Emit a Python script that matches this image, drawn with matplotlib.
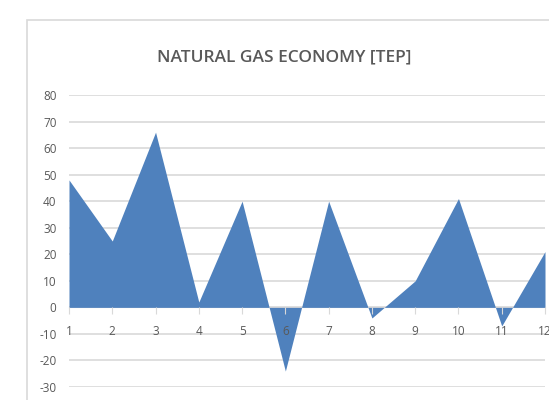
import numpy as np
import matplotlib.pyplot as plt
from matplotlib.patches import Rectangle

# chart data
months = [1, 2, 3, 4, 5, 6, 7, 8, 9, 10, 11, 12]
economy = [48, 25, 66, 2, 40, -24, 40, -4, 10, 41, -7, 21]
y_ticks = [-30, -20, -10, 0, 10, 20, 30, 40, 50, 60, 70, 80]

plt.rcParams['font.family'] = ['Open Sans', 'DejaVu Sans']
plt.rcParams['axes.unicode_minus'] = False

fig = plt.figure(figsize=(5.49, 4.0), dpi=100)

# outer chart frame (cut off at right and bottom like the screenshot)
fig.patches.append(Rectangle((27 / 549, -0.1), 1.0, 1 - 20 / 400 + 0.1,
                             transform=fig.transFigure, fill=False,
                             edgecolor="#d9d9d9", linewidth=1.2))

ax = fig.add_axes([69 / 549, 1 - 387 / 400, (545 - 69) / 549, (387 - 95) / 400])

# gridlines drawn by hand so they sit under the area, while tick labels stay on top
for t in y_ticks:
    ax.axhline(t, color="#d9d9d9", linewidth=1.2, zorder=0.1)
ax.fill_between(months, economy, 0, color="#4f81bd", linewidth=0, zorder=0.3)

ax.set_xlim(months[0], months[-1])
ax.set_ylim(y_ticks[0], y_ticks[-1])
ax.set_yticks(y_ticks)
ax.set_xticks(months)

for s in ['top', 'right', 'left']:
    ax.spines[s].set_visible(False)
ax.spines['bottom'].set_position(('data', 0))
ax.spines['bottom'].set_color("#d9d9d9")
ax.spines['bottom'].set_zorder(0.2)

ax.tick_params(axis='y', length=0, labelsize=8.5, labelcolor="#595959", pad=9)
ax.tick_params(axis='x', length=5, color="#d9d9d9", labelsize=8.5,
               labelcolor="#595959", pad=8)

fig.text(284 / 549, 1 - 57 / 400, "NATURAL GAS ECONOMY [TEP]", ha='center', va='center',
         fontsize=12.5, color="#595959", fontweight='semibold')

fig.savefig("out.png", dpi=100)
